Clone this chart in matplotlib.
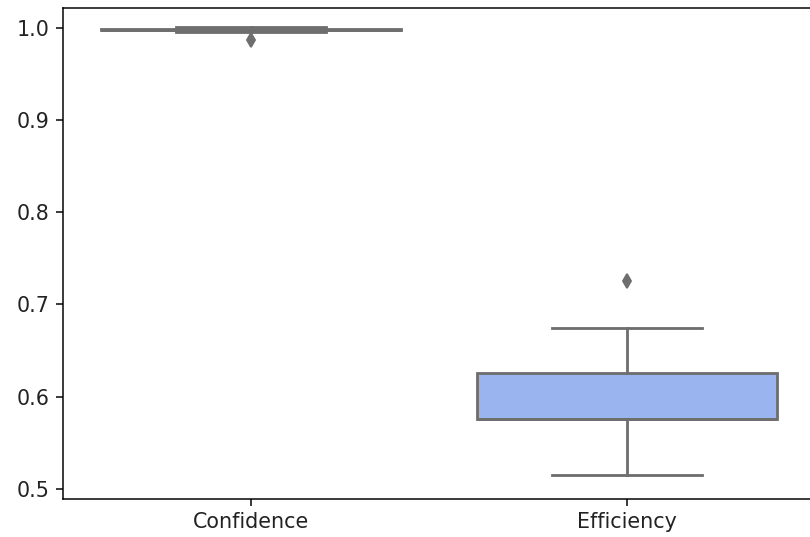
import matplotlib
matplotlib.use("Agg")
import matplotlib.pyplot as plt

# box statistics
labels = ["Confidence", "Efficiency"]
medians = [0.998, 0.576]
q1 = [0.998, 0.576]
q3 = [0.999, 0.626]
whis_lo = [0.9955, 0.5155]
whis_hi = [1.0005, 0.6745]
outliers = [[0.987], [0.725]]
fills = ["#dd8b6f", "#9ab4ef"]

gray = "#6e6e6e"

stats = []
for i in range(len(labels)):
    stats.append(dict(label=labels[i], med=medians[i], q1=q1[i], q3=q3[i],
                      whislo=whis_lo[i], whishi=whis_hi[i], fliers=outliers[i]))

fig = plt.figure(figsize=(6, 537 / 135), dpi=135)
ax = fig.add_axes([63 / 810, 1 - 499 / 537, 752 / 810, 491 / 537])

bp = ax.bxp(stats, positions=[0, 1], widths=0.8, patch_artist=True,
            boxprops=dict(edgecolor=gray, linewidth=1.5),
            whiskerprops=dict(color=gray, linewidth=1.5),
            capprops=dict(color=gray, linewidth=1.5),
            medianprops=dict(color=gray, linewidth=1.5),
            flierprops=dict(marker="d", markerfacecolor=gray, markeredgecolor=gray,
                            markersize=5))
for patch, c in zip(bp["boxes"], fills):
    patch.set_facecolor(c)

ax.set_xlim(-0.5, 1.5)
ax.set_ylim(0.489, 1.0216)
ax.set_yticks([0.5, 0.6, 0.7, 0.8, 0.9, 1.0])
ax.tick_params(labelsize=11, labelcolor="#222222")

fig.savefig("out.png", dpi=135)
